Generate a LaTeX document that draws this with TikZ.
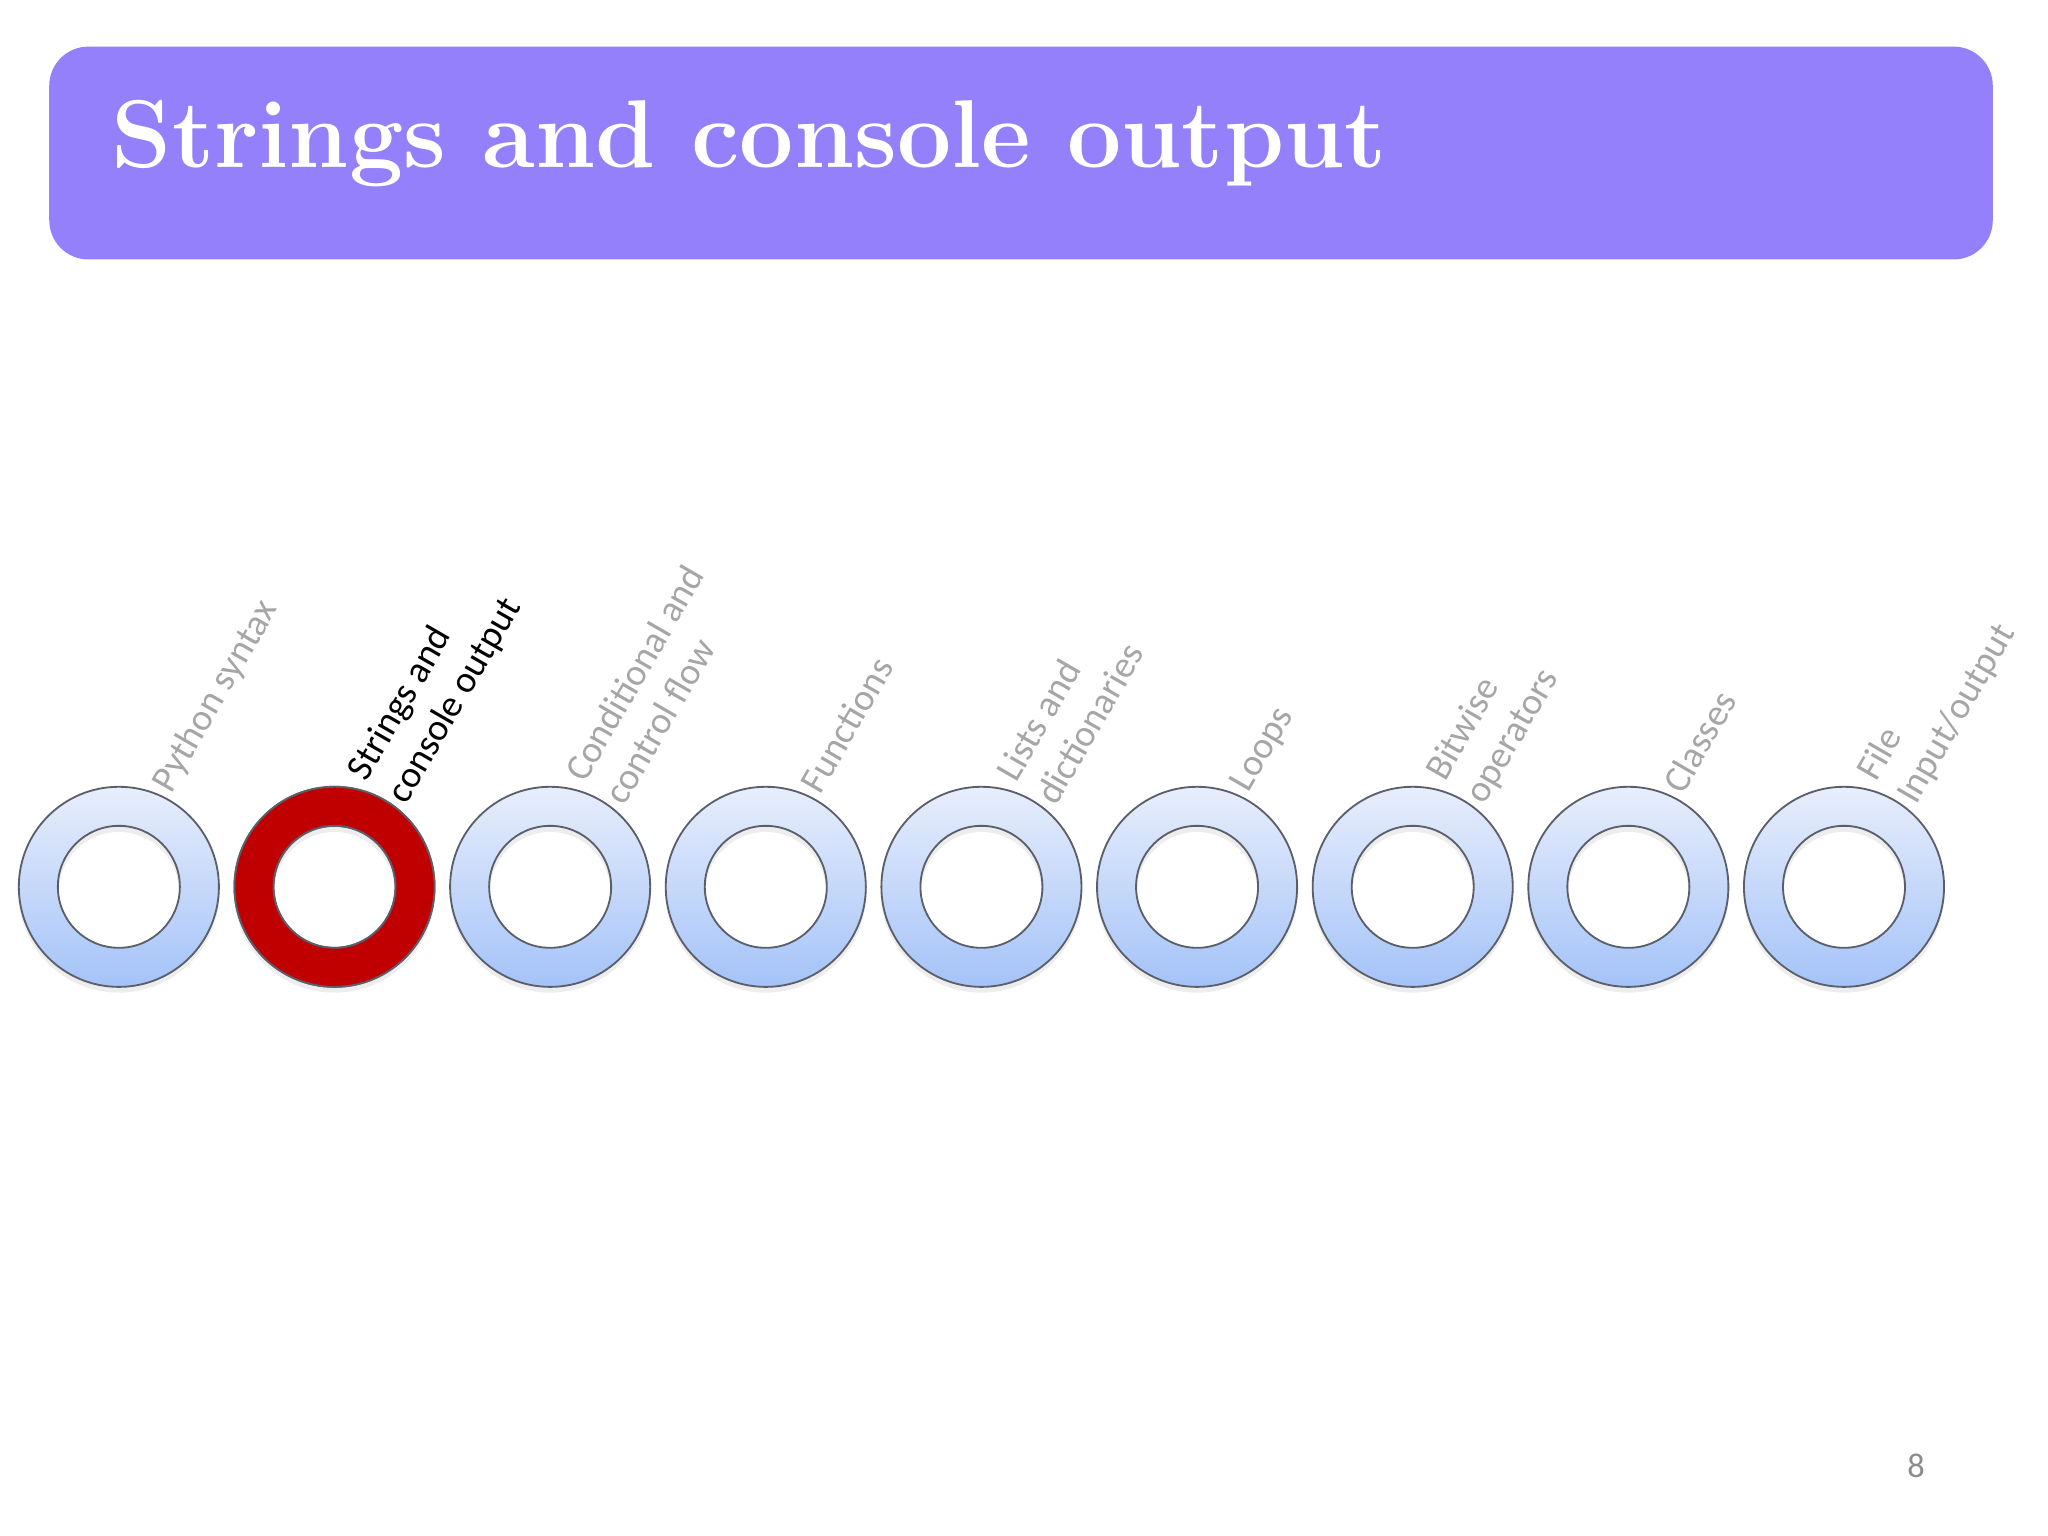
\documentclass[tikz,border=0pt]{standalone}
\usepackage{fontspec}
\newfontfamily\labelfont{Carlito}
\usepackage{tikz}
\usetikzlibrary{positioning}

\definecolor{headbg}{HTML}{9380FA}
\definecolor{ringtop}{HTML}{E8EEFC}
\definecolor{ringbot}{HTML}{A4C3F8}
\definecolor{ringline}{HTML}{5A5F6A}
\definecolor{activered}{HTML}{C00000}
\definecolor{labgray}{HTML}{A6A6A6}
\definecolor{pagegray}{HTML}{8C8C8C}

\tikzset{
	ringedge/.style={draw=ringline, line width=0.4pt},
	ringslot/.style={circle, minimum size=1.532cm, inner sep=0pt},
	topic/.style={anchor=west, rotate=60, align=left, inner sep=0pt, font=\labelfont\fontsize{8.2}{10}\selectfont},
}

\begin{document}
\begin{tikzpicture}
			\useasboundingbox (0,0) rectangle (15.68,11.76);
			% header bar
			\node[fill=headbg, rounded corners=0.3cm, minimum width=14.88cm, minimum height=1.63cm, inner sep=0pt, anchor=north west] (head) at (0.37,11.41) {};
			\node[anchor=base west, inner sep=0pt, text=white, font=\bfseries\fontsize{21}{24}\selectfont] (title) at (0.85,10.48) {Strings and console output};
			% topic rings
			\foreach \i/\txt/\col in {1/{Python syntax}/labgray, 2/{Strings and\\console output}/black, 3/{Conditional and\\control flow}/labgray, 4/{Functions}/labgray, 5/{Lists and\\dictionaries}/labgray, 6/{Loops}/labgray, 7/{Bitwise\\operators}/labgray, 8/{Classes}/labgray, 9/{File\\Input/output}/labgray}{
				\node[ringslot] (r\i) at ({0.91+1.651*(\i-1)},4.97) {};
				\fill[black!7, even odd rule] ([yshift=-0.4mm]r\i.center) circle (0.77) ([yshift=-0.4mm]r\i.center) circle (0.46);
				\shade[top color=ringtop, bottom color=ringbot, even odd rule] (r\i.center) circle (0.766) (r\i.center) circle (0.467);
				\draw[ringedge] (r\i.center) circle (0.766) (r\i.center) circle (0.467);
				\node[topic, text=\col] (t\i) at ([xshift=3.3mm, yshift=-0.3mm]r\i.north) {\txt};
			}
			% current topic
			\fill[activered, even odd rule] (r2.center) circle (0.766) (r2.center) circle (0.467);
			\draw[ringedge] (r2.center) circle (0.766) (r2.center) circle (0.467);
			% page number
			\node[text=pagegray, font=\labelfont\fontsize{7.5}{9}\selectfont] (page) at (14.67,0.54) {8};
		\end{tikzpicture}
\end{document}
